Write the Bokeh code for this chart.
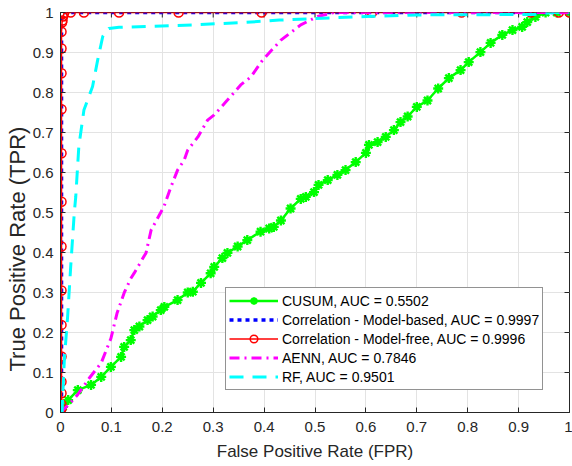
from bokeh.plotting import figure
from bokeh.models import Legend, LegendItem, FixedTicker, Range1d, Title
from bokeh.embed import file_html
from bokeh.resources import INLINE

# ---------------- data ----------------
x_ticks = [0, 0.1, 0.2, 0.3, 0.4, 0.5, 0.6, 0.7, 0.8, 0.9, 1]
x_tick_labels = ["0", "0.1", "0.2", "0.3", "0.4", "0.5", "0.6", "0.7", "0.8", "0.9", "1"]
y_ticks = [0, 0.1, 0.2, 0.3, 0.4, 0.5, 0.6, 0.7, 0.8, 0.9, 1]
y_tick_labels = ["0", "0.1", "0.2", "0.3", "0.4", "0.5", "0.6", "0.7", "0.8", "0.9", "1"]

series_labels = [
    "CUSUM, AUC = 0.5502",
    "Correlation - Model-based, AUC = 0.9997",
    "Correlation - Model-free, AUC = 0.9996",
    "AENN, AUC = 0.7846",
    "RF, AUC = 0.9501",
]

cusum_fpr = [0, 0.005, 0.015, 0.034, 0.06, 0.08, 0.099, 0.119, 0.125, 0.138, 0.145, 0.155,
             0.171, 0.181, 0.197, 0.204, 0.23, 0.25, 0.26, 0.276, 0.295, 0.302, 0.318, 0.328,
             0.348, 0.367, 0.393, 0.41, 0.419, 0.433, 0.452, 0.472, 0.482, 0.498,
             0.507, 0.525, 0.544, 0.56, 0.58, 0.6, 0.606, 0.623, 0.639, 0.655, 0.668, 0.682,
             0.70, 0.721, 0.742, 0.763, 0.786, 0.802, 0.825, 0.845, 0.868, 0.888, 0.907,
             0.917, 0.933, 0.953, 0.975, 1.0]
cusum_tpr = [0, 0.014, 0.031, 0.056, 0.069, 0.089, 0.114, 0.139, 0.164, 0.181, 0.206, 0.215,
             0.231, 0.24, 0.256, 0.264, 0.281, 0.30, 0.302, 0.324, 0.348, 0.364, 0.386, 0.399,
             0.415, 0.431, 0.452, 0.46, 0.464, 0.48, 0.51, 0.534, 0.539, 0.551,
             0.569, 0.581, 0.594, 0.606, 0.626, 0.649, 0.669, 0.676, 0.689, 0.706, 0.726, 0.74,
             0.764, 0.78, 0.81, 0.836, 0.856, 0.876, 0.901, 0.924, 0.944, 0.956, 0.964,
             0.976, 0.989, 1.0, 1.0, 1.0]

mb_fpr = [0, 0.002, 0.002, 0.003, 0.006, 1.0]
mb_tpr = [0, 0.03, 0.97, 0.99, 1.0, 1.0]

mf_fpr = [0, 0.002, 0.002, 0.002, 0.002, 0.002, 0.002, 0.002, 0.002, 0.002, 0.002, 0.002,
          0.002, 0.002, 0.002, 0.003, 0.004, 0.005, 0.007, 0.02, 0.046, 0.115, 0.232, 0.395,
          0.612, 0.788, 0.924, 0.979, 1.0]
mf_tpr = [0, 0.01, 0.02, 0.048, 0.077, 0.14, 0.219, 0.305, 0.415, 0.527, 0.648, 0.758,
          0.848, 0.91, 0.952, 0.975, 0.98, 0.99, 0.998, 1, 1, 1, 1, 1, 1, 1, 1, 1, 1]

aenn_fpr = [0, 0.02, 0.034, 0.056, 0.08, 0.099, 0.111, 0.125, 0.138, 0.145, 0.168, 0.178,
            0.203, 0.217, 0.23, 0.243, 0.25, 0.27, 0.289, 0.302, 0.328, 0.354, 0.374, 0.397,
            0.433, 0.472, 0.505, 0.537, 1.0]
aenn_tpr = [0, 0.025, 0.045, 0.085, 0.124, 0.185, 0.248, 0.299, 0.335, 0.349, 0.399, 0.456,
            0.514, 0.564, 0.606, 0.631, 0.656, 0.689, 0.731, 0.744, 0.781, 0.819, 0.839, 0.881,
            0.931, 0.969, 0.99, 1.0, 1.0]

rf_fpr = [0, 0.003, 0.004, 0.0075, 0.014, 0.02, 0.027, 0.03, 0.036, 0.046, 0.063, 0.073,
          0.083, 0.095, 0.115, 0.26, 0.36, 0.43, 0.5, 0.6, 0.7, 0.93, 0.97, 1.0]
rf_tpr = [0, 0.0, 0.031, 0.131, 0.24, 0.364, 0.498, 0.54, 0.665, 0.756, 0.815, 0.881,
          0.94, 0.96, 0.963, 0.969, 0.975, 0.981, 0.985, 0.99, 0.994, 0.995, 1.0, 1.0]

# ---------------- figure ----------------
FONT = "Liberation Sans"
AX = "#262626"

p = figure(width=572, height=466, output_backend="svg", toolbar_location=None,
           x_range=Range1d(0, 1), y_range=Range1d(0, 1),
           min_border_left=60, min_border_right=3, min_border_top=12, min_border_bottom=54)
p.background_fill_color = "white"
p.border_fill_color = "white"
p.outline_line_color = AX
p.outline_line_width = 1

for ax, ticks, labels in ((p.xaxis[0], x_ticks, x_tick_labels), (p.yaxis[0], y_ticks, y_tick_labels)):
    ax.ticker = FixedTicker(ticks=ticks)
    ax.major_label_overrides = dict(zip(ticks, labels))
    ax.major_tick_in = 5
    ax.major_tick_out = 0
    ax.minor_tick_line_color = None
    ax.axis_line_color = AX
    ax.major_tick_line_color = AX
    ax.major_label_text_font = FONT
    ax.major_label_text_font_size = "15px"
    ax.major_label_text_color = AX

p.xaxis.major_label_standoff = 9
p.yaxis.major_label_standoff = 7
p.xaxis.axis_label = "False Positive Rate (FPR)"
p.xaxis.axis_label_text_font = FONT
p.xaxis.axis_label_text_font_size = "17px"
p.xaxis.axis_label_text_font_style = "normal"
p.xaxis.axis_label_text_color = AX
p.xaxis.axis_label_standoff = 7

# y-axis label as a side title (allows shifting along the axis like the reference)
ytitle = Title(text="True Positive Rate (TPR)", align="left", offset=41, standoff=0,
               text_font=FONT, text_font_size="22px", text_font_style="normal",
               text_color=AX)
p.add_layout(ytitle, "left")

p.xgrid.ticker = FixedTicker(ticks=x_ticks)
p.ygrid.ticker = FixedTicker(ticks=y_ticks)
p.grid.grid_line_color = "#e3e3e3"
p.grid.grid_line_width = 1

# inward tick marks on the top and right edges (box on)
tick_len_x = 0.0098
tick_len_y = 0.0125
p.segment(x0=[1] * len(y_ticks), y0=y_ticks, x1=[1 - tick_len_x] * len(y_ticks), y1=y_ticks,
          line_color=AX, line_width=1)
p.segment(x0=x_ticks, y0=[1] * len(x_ticks), x1=x_ticks, y1=[1 - tick_len_y] * len(x_ticks),
          line_color=AX, line_width=1)

# ---------------- series ----------------
r_cusum_l = p.line(cusum_fpr, cusum_tpr, line_color="#00ff00", line_width=2.5)
r_cusum_m = p.scatter(cusum_fpr, cusum_tpr, marker="asterisk", size=10,
                      line_color="#00ff00", line_width=2.4)
r_mb = p.line(mb_fpr, mb_tpr, line_color="#0000ff", line_width=3.5, line_dash="4 4")
r_mf_l = p.line(mf_fpr, mf_tpr, line_color="#ff0000", line_width=1.5)
r_mf_m = p.scatter(mf_fpr, mf_tpr, marker="circle", size=9, fill_color=None,
                   line_color="#ff0000", line_width=1.5)
r_aenn = p.line(aenn_fpr, aenn_tpr, line_color="#ff00ff", line_width=3, line_dash="10 5 2 5")
r_rf = p.line(rf_fpr, rf_tpr, line_color="#00ffff", line_width=3, line_dash="14 9")

legend = Legend(items=[
    LegendItem(label=series_labels[0], renderers=[r_cusum_l, r_cusum_m]),
    LegendItem(label=series_labels[1], renderers=[r_mb]),
    LegendItem(label=series_labels[2], renderers=[r_mf_l, r_mf_m]),
    LegendItem(label=series_labels[3], renderers=[r_aenn]),
    LegendItem(label=series_labels[4], renderers=[r_rf]),
], location=(165, 22))
legend.margin = 0
legend.padding = 3
legend.spacing = 0
legend.glyph_width = 49
legend.glyph_height = 19
legend.label_height = 19
legend.label_standoff = 4
legend.label_text_font = FONT
legend.label_text_font_size = "14px"
legend.label_text_color = "#000000"
legend.border_line_color = AX
legend.border_line_width = 1
legend.background_fill_color = "white"
legend.background_fill_alpha = 1
p.add_layout(legend)

open("out.html", "w").write(file_html(p, INLINE))
